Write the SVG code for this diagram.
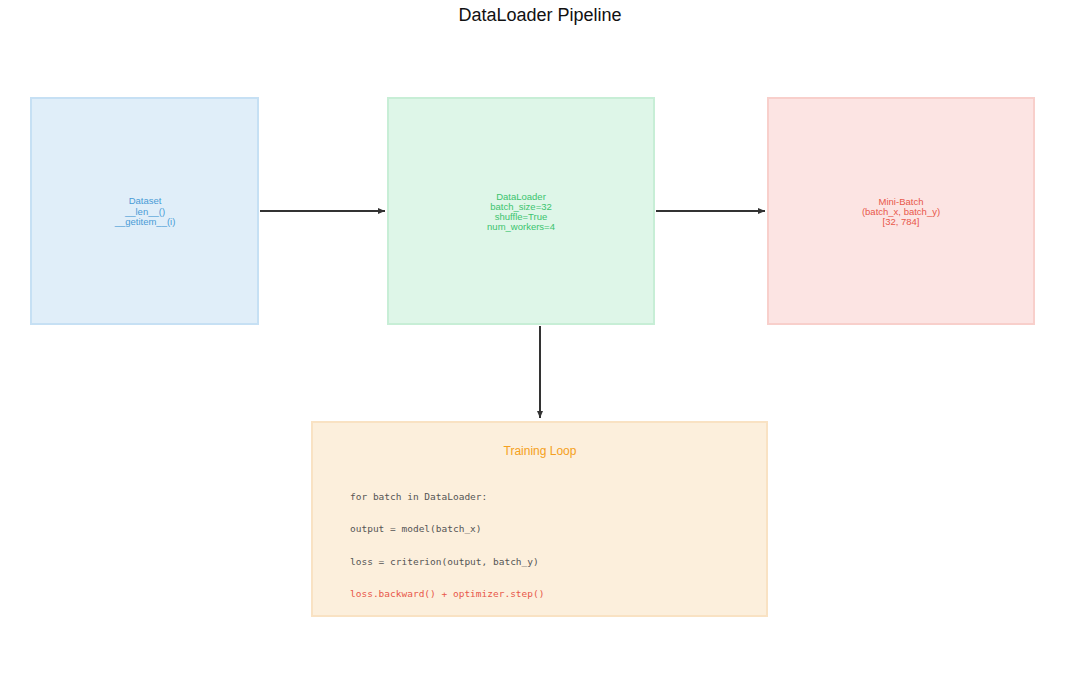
<svg xmlns="http://www.w3.org/2000/svg" width="1080" height="689" viewBox="0 0 1080 689">
<style>
.s{font-family:"Liberation Sans",Arial,sans-serif;font-size:9.5px;text-anchor:middle}
.m{font-family:"DejaVu Sans Mono","Liberation Mono",monospace;font-size:9.5px;fill:#555}
.c{stroke:#333;stroke-width:2;fill:none;marker-end:url(#a)}
</style>
<defs><marker id="a" markerWidth="8" markerHeight="8" refX="7" refY="4" orient="auto" markerUnits="userSpaceOnUse"><path d="M0,1 L7,4 L0,7 Z" fill="#333"/></marker></defs>
<rect width="1080" height="689" fill="#fff"/>
<text x="540" y="21" font-family="Liberation Sans,Arial,sans-serif" font-size="18" text-anchor="middle" fill="#111">DataLoader Pipeline</text>
<g id="dataset"><rect x="31" y="98" width="227" height="226" fill="#e0eef9" stroke="#c6e0f4" stroke-width="2"/>
<text class="s" fill="#4a9bd6"><tspan x="145" y="204">Dataset</tspan><tspan x="145" y="215">__len__()</tspan><tspan x="145" y="225">__getitem__(i)</tspan></text></g>
<g id="dataloader"><rect x="388" y="98" width="266" height="226" fill="#def6e8" stroke="#c7eed6" stroke-width="2"/>
<text class="s" fill="#3cc46e"><tspan x="521" y="200">DataLoader</tspan><tspan x="521" y="210">batch_size=32</tspan><tspan x="521" y="220">shuffle=True</tspan><tspan x="521" y="230">num_workers=4</tspan></text></g>
<g id="minibatch"><rect x="768" y="98" width="266" height="226" fill="#fce4e3" stroke="#f8cfcb" stroke-width="2"/>
<text class="s" fill="#e8574a"><tspan x="901" y="205">Mini-Batch</tspan><tspan x="901" y="215">(batch_x, batch_y)</tspan><tspan x="901" y="225">[32, 784]</tspan></text></g>
<g id="training"><rect x="312" y="422" width="455" height="194" fill="#fcefdc" stroke="#f9e2c3" stroke-width="2"/>
<text x="540" y="455" font-family="Liberation Sans,Arial,sans-serif" font-size="12" text-anchor="middle" fill="#f5a020">Training Loop</text>
<text class="m" x="350" y="500">for batch in DataLoader:</text>
<text class="m" x="350" y="532">output = model(batch_x)</text>
<text class="m" x="350" y="565">loss = criterion(output, batch_y)</text>
<text class="m" x="350" y="597" fill="#e8574a" style="fill:#e8574a">loss.backward() + optimizer.step()</text></g>
<g id="connectors">
<path class="c" d="M260,211 H385"/>
<path class="c" d="M656,211 H765"/>
<path class="c" d="M540,326 V418"/>
</g>
</svg>
